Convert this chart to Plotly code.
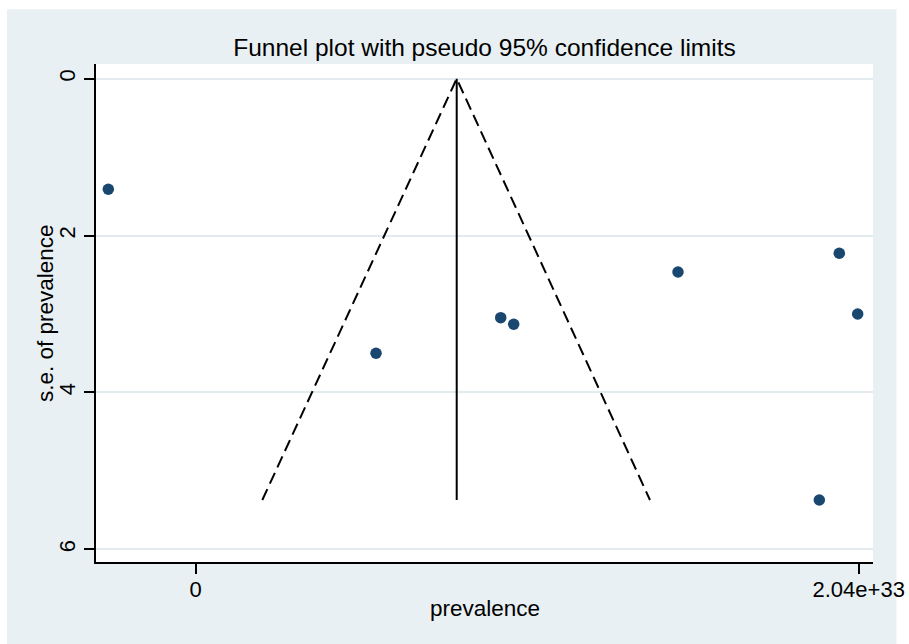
import plotly.graph_objects as go

# Study estimates and their standard errors
prevalence = [-2.689e32, 5.548e32, 9.385e32, 9.785e32, 1.484e33, 1.9803e33, 2.0369e33, 1.9188e33]
se_prevalence = [1.410, 3.501, 3.047, 3.131, 2.465, 2.226, 3.000, 5.372]

# Pooled estimate and pseudo 95% limits at the largest standard error
pooled = 8.031e32
se_max = 5.372
limit_lower = 2.049e32
limit_upper = 1.3978e33

x_tickvals = [0, 2.04e33]
x_ticktext = ["0", "2.04e+33"]
y_tickvals = [0, 2, 4, 6]

navy = "#1a476f"
bg = "#e9f0f3"
grid = "#e3ebee"
font = "Liberation Sans, Arial, sans-serif"

fig = go.Figure()

# Pseudo confidence limits (dashed) and pooled estimate (solid)
fig.add_trace(go.Scatter(
    x=[limit_lower, pooled, limit_upper], y=[se_max, 0, se_max],
    mode="lines", line=dict(color="black", width=2, dash="12px,6px"),
    hoverinfo="skip", showlegend=False))
fig.add_trace(go.Scatter(
    x=[pooled, pooled], y=[0, se_max],
    mode="lines", line=dict(color="black", width=2),
    hoverinfo="skip", showlegend=False))

# Studies
fig.add_trace(go.Scatter(
    x=prevalence, y=se_prevalence, mode="markers",
    marker=dict(color=navy, size=11.5, line=dict(width=0)),
    showlegend=False))

# Graph region background and white plot region
fig.add_shape(type="rect", xref="paper", yref="paper",
              x0=-0.1145, x1=1.0302, y0=-0.17, y1=1.1098,
              fillcolor=bg, line=dict(width=0), layer="below")
fig.add_shape(type="rect", xref="paper", yref="paper",
              x0=0, x1=1, y0=0, y1=1,
              fillcolor="white", line=dict(width=0), layer="below")

# Axis titles
fig.add_annotation(text="prevalence", xref="paper", yref="paper",
                   x=0.5, y=0, yshift=-46, xanchor="center", yanchor="middle",
                   showarrow=False, font=dict(size=22.5, family=font, color="black"))
fig.add_annotation(text="s.e. of prevalence", xref="paper", yref="paper",
                   x=0, y=0.5, xshift=-51, xanchor="center", yanchor="middle",
                   textangle=-90, showarrow=False,
                   font=dict(size=22.5, family=font, color="black"))

fig.update_layout(
    width=909, height=644,
    margin=dict(l=96, r=36, t=64, b=82),
    paper_bgcolor="white", plot_bgcolor="white",
    font=dict(family=font, color="black"),
    title=dict(text="Funnel plot with pseudo 95% confidence limits",
               x=0.5, xref="paper", xanchor="center",
               y=1 - 47 / 644, yref="container", yanchor="middle",
               font=dict(size=24.5, family=font, color="black")),
    xaxis=dict(
        range=[-3.068e32, 2.084e33], automargin=False,
        tickvals=x_tickvals, ticktext=x_ticktext,
        ticks="outside", ticklen=10, tickwidth=1.5, tickcolor="black",
        ticklabelstandoff=-3,
        showline=True, linecolor="black", linewidth=1.5,
        showgrid=False, zeroline=False,
        tickfont=dict(size=22, family=font, color="black")),
    yaxis=dict(
        range=[6.162, -0.1874], automargin=False,
        tickvals=y_tickvals, tickangle=-90,
        ticks="outside", ticklen=10, tickwidth=1.5, tickcolor="black",
        showline=True, linecolor="black", linewidth=1.5,
        showgrid=True, gridcolor=grid, gridwidth=2, zeroline=False,
        tickfont=dict(size=22, family=font, color="black")),
)

fig.write_html("out.html")
